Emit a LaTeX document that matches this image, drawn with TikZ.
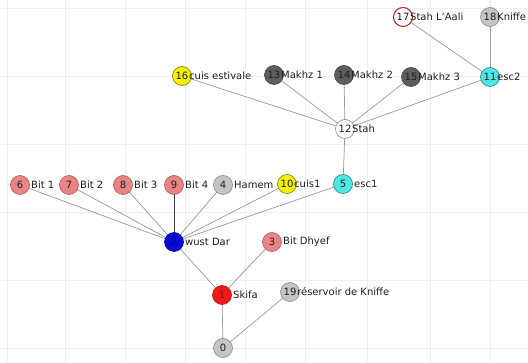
\documentclass[tikz,border=0pt]{standalone}
\usepackage{fontspec}
\setmainfont{DejaVu Sans}
\definecolor{pinkn}{HTML}{E98484}
\definecolor{pinkb}{HTML}{B05A5A}
\definecolor{grayn}{HTML}{C4C4C4}
\definecolor{grayb}{HTML}{8A8A8A}
\definecolor{darkn}{HTML}{5E5E5E}
\definecolor{yelln}{HTML}{F4F000}
\definecolor{cyann}{HTML}{4EE6E6}
\definecolor{bluen}{HTML}{0A0AD0}
\definecolor{redn}{HTML}{EE1A1A}
\definecolor{edgec}{HTML}{9A9A9A}
\definecolor{gridc}{HTML}{EFEFEF}
\definecolor{txt}{HTML}{202020}
\tikzset{
  vtx/.style={circle,draw=grayb,line width=0.6pt,minimum size=19pt,inner sep=0pt,
    font=\fontsize{10}{12}\selectfont,text=txt},
  pinkv/.style={vtx,fill=pinkn,draw=pinkb},
  grayv/.style={vtx,fill=grayn},
  darkv/.style={vtx,fill=darkn,draw=darkn!70!black},
  yellv/.style={vtx,fill=yelln,draw=yelln!50!black},
  cyanv/.style={vtx,fill=cyann,draw=cyann!55!black},
  whitev/.style={vtx,fill=white},
  lbl/.style={anchor=west,inner sep=0pt,font=\fontsize{10}{12}\selectfont,text=txt},
  edge/.style={draw=edgec,line width=0.7pt},
}
\newcommand{\vlabel}[2]{\node[lbl] at ([xshift=11pt]#1.center) {#2};}
\newcommand{\wlabel}[2]{\node[lbl] at ([xshift=7pt]#1.center) {#2};}
\begin{document}
\begin{tikzpicture}[x=1pt,y=-1pt]
\useasboundingbox (0,0) rectangle (528,363);
\clip (0,0) rectangle (528,363);
\fill[white] (0,0) rectangle (528,363);
% grid
\foreach \gx in {7,65,125,185,245,305,367,430,490}
  \draw[gridc,line width=0.8pt] (\gx,0) -- (\gx,363);
\foreach \gy in {8,76,144,212,280,348}
  \draw[gridc,line width=0.8pt] (0,\gy) -- (528,\gy);
% node coordinates
\coordinate (p0) at (223,348);
\coordinate (p1) at (222,295);
\coordinate (p2) at (174,242);
\coordinate (p3) at (272,242);
\coordinate (p4) at (223,185);
\coordinate (p5) at (343,184);
\coordinate (p6) at (20,185);
\coordinate (p7) at (69,185);
\coordinate (p8) at (123,185);
\coordinate (p9) at (174,185);
\coordinate (p10) at (287,184);
\coordinate (p11) at (490,77);
\coordinate (p12) at (345,129);
\coordinate (p13) at (274,75);
\coordinate (p14) at (344,75);
\coordinate (p15) at (411,77);
\coordinate (p16) at (182,76);
\coordinate (p17) at (403,17);
\coordinate (p18) at (490,17);
\coordinate (p19) at (290,292);
% edges
\foreach \a/\b in {p0/p1,p0/p19,p1/p2,p1/p3,p2/p6,p2/p7,p2/p8,p2/p4,p2/p10,p2/p5,
  p5/p12,p12/p16,p12/p13,p12/p14,p12/p15,p12/p11,p11/p17,p11/p18}
  \draw[edge] (\a) -- (\b);
\draw[draw=black!75,line width=0.8pt] (p2) -- (p9);
% nodes
\node[grayv] (n0) at (p0) {0};
\node[vtx,fill=redn,draw=redn!80!black,text=redn!60!black] (n1) at (p1) {1};
\node[vtx,fill=bluen,draw=bluen!70!black,text=bluen!55!black] (n2) at (p2) {2};
\node[pinkv] (n3) at (p3) {3};
\node[grayv] (n4) at (p4) {4};
\node[cyanv] (n5) at (p5) {5};
\node[pinkv] (n6) at (p6) {6};
\node[pinkv] (n7) at (p7) {7};
\node[pinkv] (n8) at (p8) {8};
\node[pinkv] (n9) at (p9) {9};
\node[yellv] (n10) at (p10) {10};
\node[cyanv] (n11) at (p11) {11};
\node[whitev] (n12) at (p12) {12};
\node[darkv] (n13) at (p13) {13};
\node[darkv] (n14) at (p14) {14};
\node[darkv] (n15) at (p15) {15};
\node[yellv] (n16) at (p16) {16};
\node[vtx,fill=white,draw=redn!85!black,line width=1pt] (n17) at (p17) {17};
\node[grayv] (n18) at (p18) {18};
\node[grayv] (n19) at (p19) {19};
% labels
\vlabel{n1}{Skifa}
\vlabel{n2}{wust Dar}
\vlabel{n3}{Bit Dhyef}
\vlabel{n4}{Hamem}
\vlabel{n5}{esc1}
\vlabel{n6}{Bit 1}
\vlabel{n7}{Bit 2}
\vlabel{n8}{Bit 3}
\vlabel{n9}{Bit 4}
\wlabel{n10}{cuis1}
\wlabel{n11}{esc2}
\wlabel{n12}{Stah}
\wlabel{n13}{Makhz 1}
\wlabel{n14}{Makhz 2}
\wlabel{n15}{Makhz 3}
\wlabel{n16}{cuis estivale}
\wlabel{n17}{Stah L'Aali}
\wlabel{n18}{Kniffe}
\wlabel{n19}{réservoir de Kniffe}
\end{tikzpicture}
\end{document}
